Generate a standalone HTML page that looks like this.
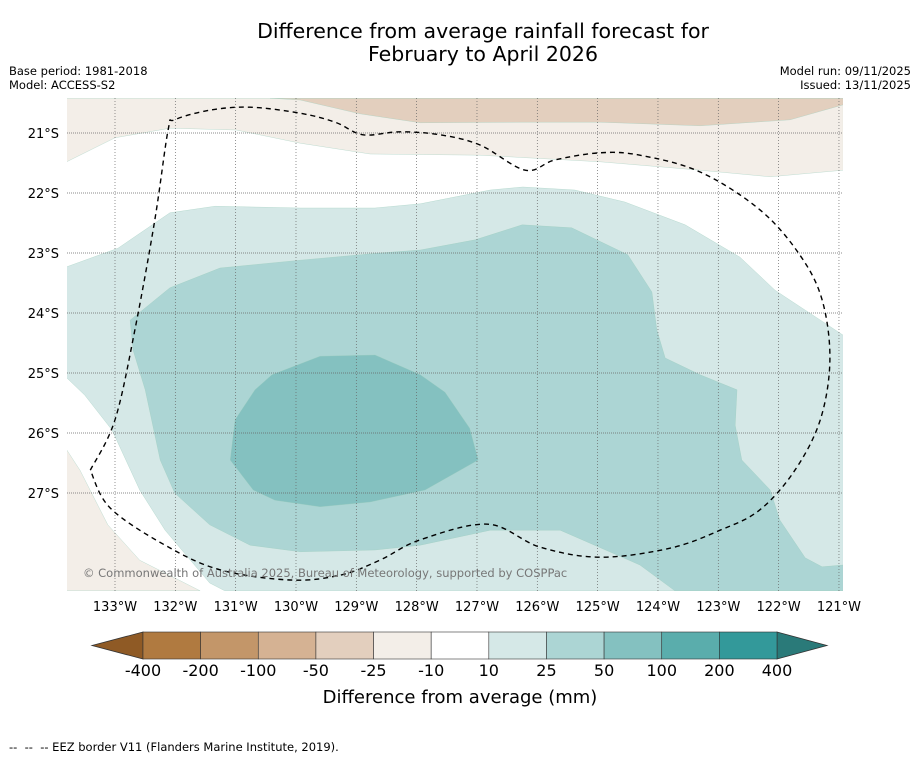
<!DOCTYPE html>
<html><head><meta charset="utf-8"><style>
html,body{margin:0;padding:0;background:#fff;}
svg{display:block;font-family:"DejaVu Sans","Liberation Sans",sans-serif;}
</style></head><body>
<svg id="c" width="919" height="758" viewBox="0 0 919 758">
<text x="483" y="38" text-anchor="middle" font-size="20.5">Difference from average rainfall forecast for</text>
<text x="483" y="61" text-anchor="middle" font-size="20.5">February to April 2026</text>
<text x="9" y="75" font-size="11.5">Base period: 1981-2018</text>
<text x="9" y="89" font-size="11.5">Model: ACCESS-S2</text>
<text x="911" y="75" font-size="11.5" text-anchor="end">Model run: 09/11/2025</text>
<text x="911" y="89" font-size="11.5" text-anchor="end">Issued: 13/11/2025</text>
<defs><clipPath id="mapclip"><rect x="67" y="98" width="776" height="493"/></clipPath></defs>
<g id="map" clip-path="url(#mapclip)"></g>
<g id="grid"></g>
<g id="eezg" clip-path="url(#mapclip)"></g>
<g id="axes"></g>
<text x="83" y="577" font-size="11.5" fill="#777">© Commonwealth of Australia 2025, Bureau of Meteorology, supported by COSPPac</text>
<g id="cbar"></g>
<text x="460" y="703" text-anchor="middle" font-size="18">Difference from average (mm)</text>
<text x="9" y="751" font-size="11.5">-- &#160;-- &#160;-- EEZ border V11 (Flanders Marine Institute, 2019).</text>
</svg>
<script>
const lonTicks=[133,132,131,130,129,128,127,126,125,124,123,122,121];
const latTicks=[21,22,23,24,25,26,27];
const cbLevels=["-400","-200","-100","-50","-25","-10","10","25","50","100","200","400"];
const cbColors=["#b07a40","#c39669","#d5b293","#e3cfbe","#f3eee8","#ffffff","#d5e8e7","#acd5d4","#84c1c0","#5aadac","#33999a"];
const tanLight=[[133.8,20.42],[120.93,20.42],[120.93,21.62],[122.14,21.73],[123.3,21.62],[124.96,21.48],[126.95,21.37],[128.77,21.35],[129.93,21.17],[130.99,20.95],[132.09,20.92],[133,21.08],[133.8,21.48]];
const tanDark=[[130.43,20.42],[120.93,20.42],[120.93,20.53],[121.81,20.78],[123.3,20.88],[124.96,20.82],[126.29,20.82],[127.94,20.83],[128.94,20.68],[129.93,20.45]];
const tanBottom=[[133.8,26.28],[133.58,26.62],[133.12,27.53],[132.59,28.12],[131.59,28.63],[133.8,28.63]];
const teal10=[[133.8,23.23],[132.95,22.92],[132.09,22.33],[131.34,22.22],[129.93,22.25],[128.69,22.25],[127.94,22.18],[126.78,21.95],[126.24,21.9],[125.38,21.95],[124.55,22.15],[123.55,22.53],[122.64,23.07],[122.06,23.62],[120.93,24.37],[120.93,28.63],[131.18,28.63],[131.43,28.5],[132.17,27.62],[132.59,26.95],[133.05,25.95],[133.5,25.37],[133.8,25.08]];
const teal25=[[132.75,24.12],[132.09,23.58],[131.26,23.25],[129.93,23.12],[128.61,23],[127.94,22.95],[127.03,22.78],[126.25,22.53],[125.43,22.58],[124.5,23.03],[124.1,23.65],[124.02,24.28],[123.88,24.75],[123.3,25.03],[122.69,25.28],[122.72,25.87],[122.61,26.45],[122.14,26.95],[121.98,27.45],[121.56,28.08],[121.28,28.23],[120.93,28.2],[120.93,28.63],[123.72,28.63],[124.3,28.2],[125.62,27.62],[126.78,27.62],[127.94,27.87],[128.69,27.95],[129.93,27.98],[130.76,27.87],[131.43,27.53],[132.01,27],[132.25,26.45],[132.5,25.28],[132.7,24.62]];
const teal50=[[131.01,25.78],[130.68,25.28],[130.4,25.03],[129.6,24.72],[128.69,24.7],[127.94,25.03],[127.53,25.32],[127.12,25.92],[126.98,26.45],[127.86,26.95],[128.77,27.15],[129.6,27.23],[130.35,27.12],[130.71,26.95],[131.09,26.45]];
const eez=[[133.41,26.62],[133,25.78],[132.67,24.28],[132.34,22.45],[132.12,20.95],[132.01,20.78],[131.43,20.62],[130.76,20.57],[129.93,20.67],[129.35,20.82],[128.89,21.03],[128.28,20.98],[127.61,21.03],[126.95,21.2],[126.2,21.62],[125.71,21.45],[124.96,21.33],[124.3,21.37],[123.3,21.65],[122.31,22.28],[121.65,23.03],[121.28,23.78],[121.15,24.78],[121.31,25.78],[121.73,26.62],[122.31,27.28],[122.97,27.62],[123.8,27.92],[124.96,28.07],[125.96,27.9],[126.82,27.52],[127.94,27.78],[128.61,28.12],[129.27,28.37],[130.1,28.45],[131.26,28.28],[132.17,27.87],[133.08,27.25],[133.41,26.62]];
const NS="http://www.w3.org/2000/svg";
function X(lon){return 115+(133-lon)*60.33;}
function Y(lat){return 133+(lat-21)*60;}
function mk(tag,attrs,parent){const e=document.createElementNS(NS,tag);for(const k in attrs)e.setAttribute(k,attrs[k]);parent.appendChild(e);return e;}
function pts(a){return a.map(p=>X(p[0]).toFixed(1)+","+Y(p[1]).toFixed(1)).join(" ");}
function smooth(a){
  const P=a.map(p=>[X(p[0]),Y(p[1])]);
  let d="M"+P[0][0].toFixed(1)+","+P[0][1].toFixed(1);
  for(let i=0;i<P.length-1;i++){
    const p0=P[Math.max(0,i-1)],p1=P[i],p2=P[i+1],p3=P[Math.min(P.length-1,i+2)];
    const c1=[p1[0]+(p2[0]-p0[0])/6,p1[1]+(p2[1]-p0[1])/6];
    const c2=[p2[0]-(p3[0]-p1[0])/6,p2[1]-(p3[1]-p1[1])/6];
    d+=" C"+c1.map(v=>v.toFixed(1)).join(",")+" "+c2.map(v=>v.toFixed(1)).join(",")+" "+p2[0].toFixed(1)+","+p2[1].toFixed(1);
  }
  return d;
}
const map=document.getElementById('map');
let bg=mk('rect',{x:67,y:98,width:776,height:493,fill:'#fff'},map);


const layers=[[tanLight,cbColors[4],'contour-minus25-minus10'],[tanDark,cbColors[3],'contour-minus50-minus25'],[tanBottom,cbColors[4],'contour-minus25-minus10-south'],[teal10,cbColors[6],'contour-10-25'],[teal25,cbColors[7],'contour-25-50'],[teal50,cbColors[8],'contour-50-100']];
layers.forEach(l=>{
  const p=mk('polygon',{points:pts(l[0]),fill:l[1],stroke:'#9cb',"stroke-width":0.5,"stroke-opacity":0.6},map);
  
  
});
const grid=document.getElementById('grid'),axes=document.getElementById('axes');
lonTicks.forEach(l=>{
  const x=X(l);
  if(x<843){const g=mk('line',{x1:x,x2:x,y1:98,y2:591,stroke:'#666',"stroke-width":0.7,"stroke-dasharray":"1,2"},grid);
  
  }
  const t=mk('text',{x:x,y:611,"text-anchor":"middle","font-size":13},axes);
  t.textContent=l+"°W";
  
  
});
latTicks.forEach(l=>{
  const y=Y(l);
  const g=mk('line',{x1:67,x2:843,y1:y,y2:y,stroke:'#666',"stroke-width":0.7,"stroke-dasharray":"1,1"},grid);
  
  
  const t=mk('text',{x:59,y:y+5,"text-anchor":"end","font-size":13},axes);
  t.textContent=l+"°S";
  
  
});
const ez=mk('path',{d:smooth(eez),fill:'none',stroke:'#000',"stroke-width":1.4,"stroke-dasharray":"5,4"},document.getElementById('eezg'));


const cb=document.getElementById('cbar');
const cx0=143,cx1=777,cy=632,ch=27,bw=(cx1-cx0)/cbColors.length;
let lt=mk('polygon',{points:`${cx0},${cy} ${cx0},${cy+ch} 92,${cy+ch/2}`,fill:'#8f5a25',stroke:'#333',"stroke-width":0.8},cb);


let rt=mk('polygon',{points:`${cx1},${cy} ${cx1},${cy+ch} 827,${cy+ch/2}`,fill:'#2a7a79',stroke:'#333',"stroke-width":0.8},cb);


cbColors.forEach((c,i)=>{
  const r=mk('rect',{x:cx0+i*bw,y:cy,width:bw,height:ch,fill:c,stroke:'#333',"stroke-width":0.6},cb);
  
  
});
cbLevels.forEach((s,i)=>{
  const t=mk('text',{x:cx0+i*bw,y:676,"text-anchor":"middle","font-size":16},cb);
  t.textContent=s;
  
  
});
</script>
</body></html>
